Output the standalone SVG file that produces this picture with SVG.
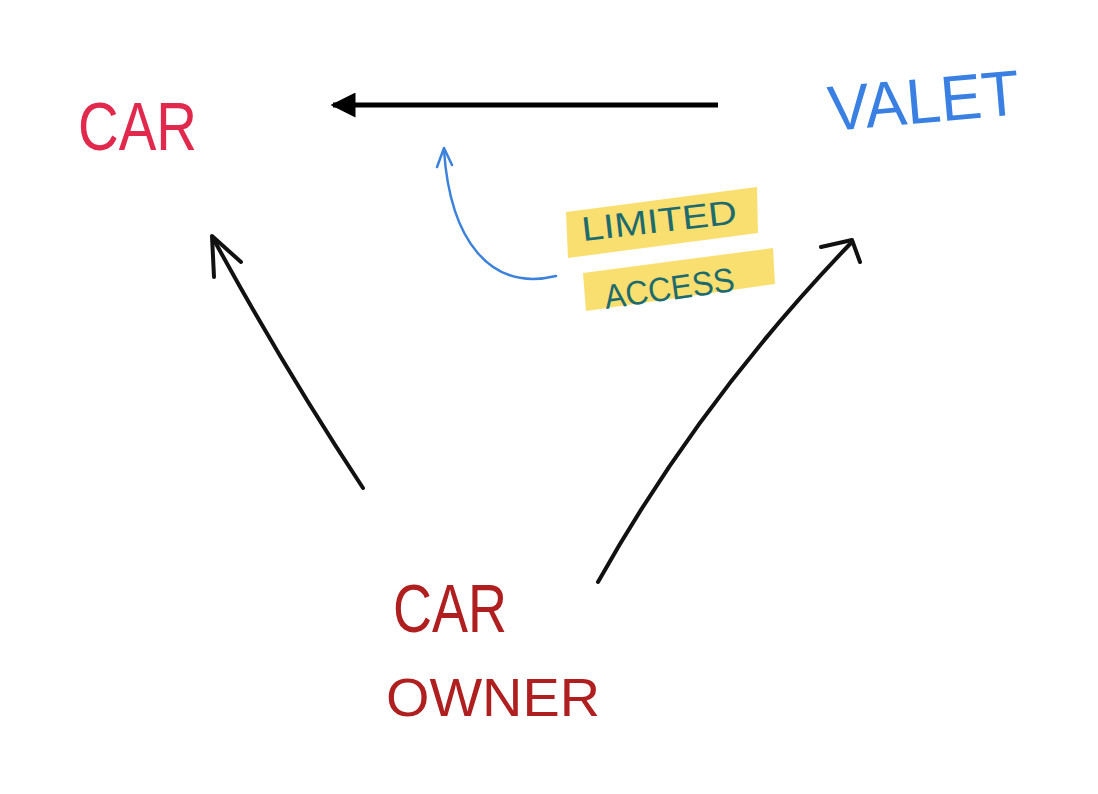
<svg xmlns="http://www.w3.org/2000/svg" width="1098" height="794" viewBox="0 0 1098 794">
<style>
.lbl{font-family:"Liberation Sans",Arial,sans-serif;}
.ink{fill:none;stroke:#111;stroke-width:4;stroke-linecap:round;stroke-linejoin:round;}
.blue{fill:none;stroke:#3c82dc;stroke-width:2.5;stroke-linecap:round;stroke-linejoin:round;}
.hl{fill:#f8d957;opacity:0.85;}
</style>
<defs>
<marker id="tri" viewBox="0 0 10 10" refX="9" refY="5" markerWidth="5" markerHeight="5" orient="auto" markerUnits="strokeWidth">
<path d="M0,0 L10,5 L0,10 z" fill="#000"/>
</marker>
</defs>
<rect width="1098" height="794" fill="#fff"/>
<g id="car">
<text class="lbl" x="78" y="150" font-size="68" fill="#e0294c" textLength="119" lengthAdjust="spacingAndGlyphs">CAR</text>
</g>
<g id="valet">
<text class="lbl" x="830" y="131" font-size="64" fill="#3a80e3" textLength="192" lengthAdjust="spacingAndGlyphs" transform="rotate(-5 830 131)">VALET</text>
</g>
<g id="car-owner">
<text class="lbl" x="393" y="632" font-size="68" fill="#b01f1f" textLength="114" lengthAdjust="spacingAndGlyphs">CAR</text>
<text class="lbl" x="386" y="716" font-size="54" fill="#b01f1f" textLength="214" lengthAdjust="spacingAndGlyphs">OWNER</text>
</g>
<g id="limited-access">
<polygon class="hl" points="566,212 757,187 758,233 568,258"/>
<polygon class="hl" points="583,273 773,248 775,284 586,311"/>
<text class="lbl" x="583" y="241" font-size="34" fill="#1e6b6e" textLength="156" lengthAdjust="spacingAndGlyphs" transform="rotate(-6.5 583 241)">LIMITED</text>
<text class="lbl" x="606" y="309" font-size="34" fill="#1e6b6e" textLength="131" lengthAdjust="spacingAndGlyphs" transform="rotate(-8 606 309)">ACCESS</text>
</g>
<g id="connectors">
<line x1="718" y1="105" x2="333" y2="105" stroke="#000" stroke-width="5" marker-end="url(#tri)"/>
<path class="ink" d="M363,488 Q285,370 214,240"/>
<path class="ink" d="M214,277 L212,236 L241,262"/>
<path class="ink" d="M598,582 Q700,400 850,244"/>
<path class="ink" d="M821,247 L852,240 L860,262"/>
<path class="blue" d="M556,276 C490,292 450,240 444,150"/>
<path class="blue" d="M437,167 L444,148 L452,165"/>
</g>
</svg>
